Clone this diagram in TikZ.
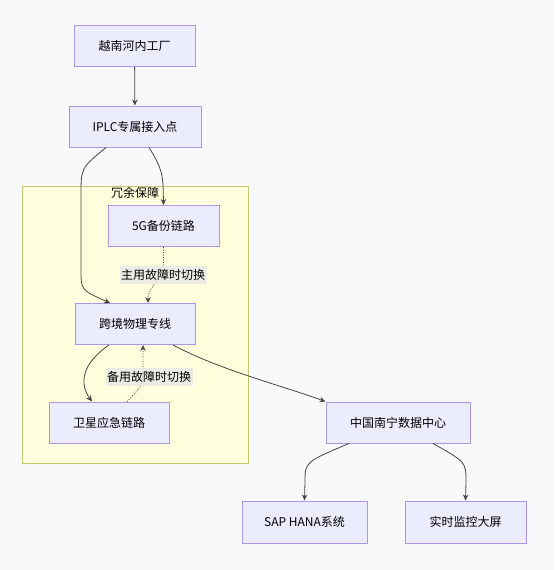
\documentclass[tikz,border=0pt]{standalone}
\usepackage{fontspec}
\setmainfont{Noto Sans CJK SC}
\usepackage{xcolor}
\usetikzlibrary{arrows.meta,calc}
\definecolor{bgcol}{RGB}{248,249,251}
\definecolor{boxfill}{RGB}{236,236,255}
\definecolor{boxline}{RGB}{175,150,228}
\definecolor{groupfill}{RGB}{255,255,222}
\definecolor{groupline}{RGB}{200,200,110}
\definecolor{edgecol}{RGB}{70,70,70}
\definecolor{lblfill}{RGB}{232,232,232}

\begin{document}
\begin{tikzpicture}[x=1pt,y=-1pt]
		\tikzset{box/.style={draw=boxline,fill=boxfill,line width=1pt,minimum height=41pt,inner sep=0pt,font=\fontsize{12}{14}\selectfont}};
		\tikzset{link/.style={draw=edgecol,line width=0.8pt,-{Stealth[length=6pt,width=5.5pt]}}};
		\tikzset{backup/.style={link,dash pattern=on 1pt off 1.5pt}};
		\tikzset{lbl/.style={fill=lblfill,fill opacity=0.8,text opacity=1,inner xsep=1.5pt,inner ysep=3pt,font=\fontsize{12}{14}\selectfont}};
		\fill[bgcol] (0,0) rectangle (554,570);
		\useasboundingbox (0,0) rectangle (554,570);

		% redundancy group
		\draw[groupline,fill=groupfill,line width=1pt] (22,186) rectangle (248,463);
		\node[font=\fontsize{12}{14}\selectfont] (group) at (135,193) {冗余保障};

		\node[box,minimum width=121pt] (factory) at (134.5,46) {越南河内工厂};
		\node[box,minimum width=132pt] (iplc) at (135,126.5) {IPLC专属接入点};
		\node[box,minimum width=111pt] (fiveg) at (163.5,226) {5G备份链路};
		\node[box,minimum width=120pt] (cross) at (135,324) {跨境物理专线};
		\node[box,minimum width=120pt] (satellite) at (109,422.5) {卫星应急链路};
		\node[box,minimum width=144pt] (china) at (398,422.5) {中国南宁数据中心};
		\node[box,minimum width=125pt,minimum height=42pt] (sap) at (304.5,522) {SAP HANA系统};
		\node[box,minimum width=121pt,minimum height=42pt] (monitor) at (465.5,522) {实时监控大屏};

		\draw[link] (factory) -- (iplc);
		\draw[link] ($(iplc.south)+(14,0)$) .. controls (163,170) and (163,175) .. (fiveg.north);
		\draw[link] ($(iplc.south)+(-29,0)$) .. controls (81,168) .. (81,195) -- (81,270) .. controls (81,290) .. ($(cross.north)+(-25,0)$);
		\draw[backup] (fiveg.south) -- ++(0,14) .. controls +(0,20) and +(0,-18) .. ($(cross.north)+(13,0)$);
		\draw[link] ($(cross.south)+(-26,0)$) .. controls (80,365) and (80,385) .. ($(satellite.north)+(-17,0)$);
		\draw[backup] ($(satellite.north)+(18,0)$) .. controls (143,385) .. (143,365) -- ($(cross.south)+(8,0)$);
		\draw[link] ($(cross.south)+(38,0)$) .. controls (220,370) and (280,385) .. (china.north west);
		\draw[link] ($(china.south)+(-49,0)$) .. controls (305,462) .. (305,482) -- (sap.north);
		\draw[link] ($(china.south)+(35,0)$) .. controls (466,462) .. (466,482) -- (monitor.north);

		\node[lbl] (swmain) at (163,275) {主用故障时切换};
		\node[lbl] (swbackup) at (149,377) {备用故障时切换};
\end{tikzpicture}
\end{document}
